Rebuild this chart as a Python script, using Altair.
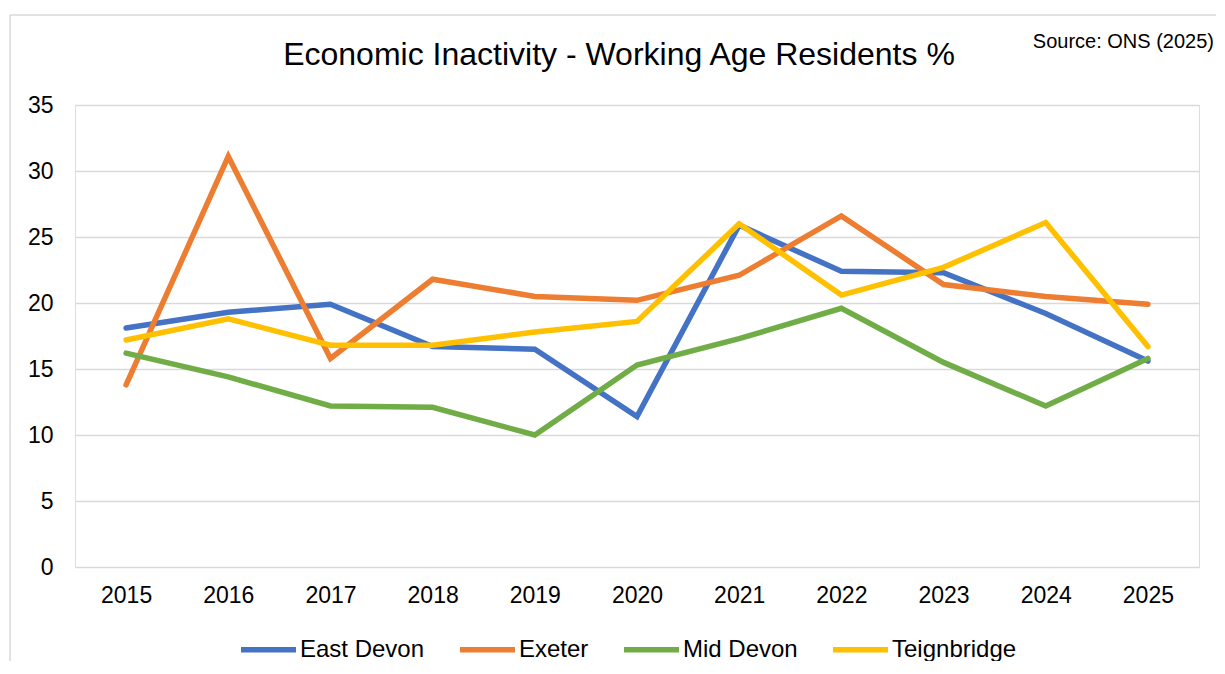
import altair as alt
import pandas as pd

years = ["2015", "2016", "2017", "2018", "2019", "2020", "2021", "2022", "2023", "2024", "2025"]
series_names = ["East Devon", "Exeter", "Mid Devon", "Teignbridge"]
east_devon = [18.1, 19.3, 19.9, 16.7, 16.5, 11.4, 25.9, 22.4, 22.3, 19.2, 15.6]
exeter = [13.8, 31.1, 15.8, 21.8, 20.5, 20.2, 22.1, 26.6, 21.4, 20.5, 19.9]
mid_devon = [16.2, 14.4, 12.2, 12.1, 10.0, 15.3, 17.3, 19.6, 15.5, 12.2, 15.8]
teignbridge = [17.2, 18.8, 16.8, 16.8, 17.8, 18.6, 26.0, 20.6, 22.7, 26.1, 16.7]
colors = ["#4472C4", "#ED7D31", "#70AD47", "#FFC000"]
y_ticks = [0, 5, 10, 15, 20, 25, 30, 35]

title_text = "Economic Inactivity - Working Age Residents %"
source_text = "Source: ONS (2025)"

rows = []
for name, vals in zip(series_names, [east_devon, exeter, mid_devon, teignbridge]):
    for yr, v in zip(years, vals):
        rows.append({"Year": yr, "Area": name, "Value": v})
df = pd.DataFrame(rows)

FONT = "Liberation Sans"
W, H = 1124, 462

lines = alt.Chart(df).mark_line(strokeWidth=5.5, strokeCap="round", strokeJoin="miter").encode(
    x=alt.X("Year:N", sort=years, scale=alt.Scale(type="point", padding=0.5),
            axis=alt.Axis(title=None, labelAngle=0, ticks=False, domain=False, grid=False,
                          labelFontSize=23, labelFont=FONT, labelColor="#000000", labelPadding=17)),
    y=alt.Y("Value:Q", scale=alt.Scale(domain=[0, 35], nice=False, zero=True),
            axis=alt.Axis(title=None, values=y_ticks, ticks=False, domain=False, grid=True,
                          gridColor="#D9D9D9", gridWidth=1.5,
                          labelFontSize=23, labelFont=FONT, labelColor="#000000", labelPadding=22)),
    color=alt.Color("Area:N", sort=series_names,
                    scale=alt.Scale(domain=series_names, range=colors),
                    legend=alt.Legend(title=None, orient="none", legendX=163, legendY=514,
                                      direction="horizontal", columns=4, symbolType="stroke",
                                      symbolSize=3025, symbolStrokeWidth=5.5, labelOffset=1,
                                      columnPadding=24, labelFontSize=24, labelFont=FONT,
                                      labelColor="#000000")),
)

title = alt.Chart(pd.DataFrame({"t": [title_text]})).mark_text(
    font=FONT, fontSize=32, align="center", baseline="alphabetic", color="#000000"
).encode(text="t:N", x=alt.value(544), y=alt.value(-40))

source = alt.Chart(pd.DataFrame({"t": [source_text]})).mark_text(
    font=FONT, fontSize=20, align="right", baseline="alphabetic", color="#000000"
).encode(text="t:N", x=alt.value(1139), y=alt.value(-57))

frame_top = alt.Chart(pd.DataFrame({"k": [0]})).mark_rule(color="#D9D9D9", strokeWidth=1.5).encode(
    x=alt.value(-65), x2=alt.value(1200), y=alt.value(-90))
frame_left = alt.Chart(pd.DataFrame({"k": [0]})).mark_rule(color="#D9D9D9", strokeWidth=1.5).encode(
    x=alt.value(-65), y=alt.value(-90), y2=alt.value(600))

chart = alt.layer(frame_top, frame_left, lines, title, source).properties(
    width=W, height=H,
    autosize=alt.AutoSizeParams(type="none"),
    padding={"left": 67, "top": 97, "right": 17, "bottom": 94},
).configure_view(stroke=None).configure(background="white")

chart.save("out.html", embed_options={"renderer": "svg", "actions": False})
